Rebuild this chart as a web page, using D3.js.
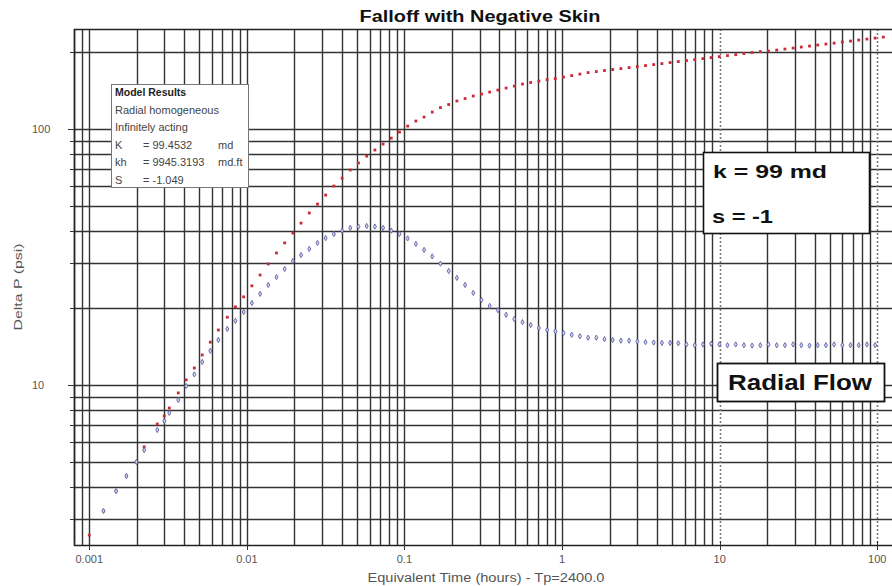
<!DOCTYPE html>
<html>
<head>
<meta charset="utf-8">
<script src="https://cdn.jsdelivr.net/npm/d3@7/dist/d3.min.js"></script>
<style>
  body { margin: 0; background: #fff; }
  svg { display: block; }
  text { font-family: Arial, "Liberation Sans", sans-serif; }
</style>
</head>
<body>
<svg id="chart" width="892" height="586"></svg>
<script>
// Falloff test: pressure change and its log derivative versus equivalent time
const timeHours = [
  0.001, 0.00123, 0.00148, 0.00172, 0.00199, 0.00223, 0.00270, 0.00299, 0.00322, 0.00367,
  0.00412, 0.00464, 0.00521, 0.00586, 0.00659,
  0.00751, 0.00846, 0.00954, 0.01076, 0.01213, 0.01367, 0.01541, 0.01737, 0.01958, 0.02207,
  0.02488, 0.02805, 0.03162, 0.03565, 0.04018, 0.04530, 0.05106, 0.05756, 0.06489, 0.07315,
  0.08247, 0.09297, 0.1048, 0.1181, 0.1332, 0.1501, 0.1692, 0.1908, 0.2151, 0.2424,
  0.2733, 0.3081, 0.3473, 0.3915, 0.4414, 0.4975, 0.5609, 0.6323, 0.7128, 0.8035,
  0.9057, 1.021, 1.151, 1.297, 1.463, 1.649, 1.858, 2.095, 2.362, 2.662,
  3.001, 3.383, 3.814, 4.299, 4.846, 5.463, 6.159, 6.943, 7.826, 8.823,
  9.945, 11.21, 12.64, 14.25, 16.06, 18.11, 20.41, 23.01, 25.94, 29.24,
  32.96, 37.15, 41.88, 47.21, 53.22, 59.99, 67.63, 76.24, 85.94, 96.87,
  109.2
];

// Delta P (psi)
const deltaP = [
  2.59, 3.22, 3.85, 4.41, 5.00, 5.73, 7.04, 7.57, 8.13, 9.31,
  10.47, 11.65, 13.1, 14.7, 16.4,
  18.4, 20.2, 22.1, 24.4, 26.9, 29.7, 32.8, 35.9, 39.2, 42.9,
  47.0, 50.9, 55.2, 59.9, 64.3, 69.2, 73.7, 78.4, 82.8, 87.4,
  92.2, 97.3, 102.7, 107.5, 111.4, 116.5, 121.3, 124.7, 128.7, 131.6,
  134.6, 137.0, 139.5, 142.0, 144.6, 147.2, 149.9, 152.0, 154.0, 156.1,
  157.5, 159.6, 161.8, 164.0, 166.2, 167.7, 169.3, 170.8, 172.3, 173.9,
  175.4, 177.0, 178.6, 180.2, 181.9, 183.5, 185.2, 186.8, 188.5, 190.2,
  191.9, 193.7, 195.4, 197.2, 199.0, 200.8, 201.7, 203.5, 205.4, 207.2,
  209.1, 211.0, 212.9, 214.8, 216.7, 218.7, 220.7, 222.7, 224.7, 226.7,
  228.7
];

// Pressure derivative (psi)
const derivative = [
  null, 3.22, 3.85, 4.41, 5.00, 5.57, 6.67, 7.23, 7.78, 8.74,
  9.91, 11.0, 12.3, 13.6, 15.0,
  16.55, 17.8, 19.3, 20.9, 22.7, 24.6, 26.4, 28.4, 30.5, 32.2,
  34.0, 35.9, 37.5, 38.9, 40.1, 41.1, 41.6, 41.8, 41.6, 41.1,
  40.1, 38.9, 37.4, 35.6, 33.7, 31.8, 29.8, 27.9, 26.2, 24.6,
  22.9, 21.5, 20.35, 19.6, 18.8, 18.1, 17.6, 17.15, 16.7, 16.4,
  16.2, 15.96, 15.7, 15.5, 15.3, 15.3, 15.1, 15.0, 14.9, 14.9,
  14.8, 14.7, 14.65, 14.6, 14.6, 14.55, 14.4, 14.3, 14.4, 14.5,
  14.4, 14.3, 14.4, 14.3, 14.25, 14.3, 14.4, 14.3, 14.3, 14.4,
  14.3, 14.25, 14.3, 14.3, 14.4, 14.3, 14.3, 14.3, 14.4, 14.3,
  null
];

const xTickValues = [0.001, 0.01, 0.1, 1, 10, 100];
const xTickLabels = ["0.001", "0.01", "0.1", "1", "10", "100"];
const yTickValues = [10, 100];
const yTickLabels = ["10", "100"];
const xDomain = [0.0008, 124];
const yDomain = [2.37, 246];

const chartTitle = "Falloff with Negative Skin";
const xTitle = "Equivalent Time (hours) - Tp=2400.0";
const yTitle = "Delta P (psi)";
const modelHeader = "Model Results";
const modelLines = ["Radial homogeneous", "Infinitely acting"];
const modelParams = [
  ["K", "= 99.4532", "md"],
  ["kh", "= 9945.3193", "md.ft"],
  ["S", "= -1.049", ""]
];
const noteLines = ["k = 99  md", "s = -1"];
const flowLabel = "Radial Flow";

const svg = d3.select("#chart");
const plot = { left: 74, right: 892, top: 29, bottom: 545 };

const x = d3.scaleLog().domain(xDomain).range([plot.left, plot.right]);
const y = d3.scaleLog().domain(yDomain).range([plot.bottom, plot.top]);

svg.append("rect").attr("width", 892).attr("height", 586).attr("fill", "#fff");

svg.append("defs").append("clipPath").attr("id", "plotClip")
  .append("rect")
  .attr("x", plot.left).attr("y", plot.top)
  .attr("width", plot.right - plot.left).attr("height", plot.bottom - plot.top);

// Grid
const grid = svg.append("g");
const xGrid = x.ticks().filter(v => v >= xDomain[0] * 0.999 && v <= xDomain[1]);
const yGrid = y.ticks().filter(v => v >= yDomain[0] && v <= yDomain[1]);
const isDotted = v => Math.abs(v - 10) < 1e-9 || Math.abs(v - 100) < 1e-9;

grid.selectAll("line.h").data(yGrid).join("line")
  .attr("x1", plot.left).attr("x2", plot.right)
  .attr("y1", d => Math.round(y(d)) + 0.5).attr("y2", d => Math.round(y(d)) + 0.5)
  .attr("stroke", "#333").attr("stroke-width", 1.4);

grid.selectAll("line.v").data(xGrid).join("line")
  .attr("y1", plot.top).attr("y2", plot.bottom)
  .attr("x1", d => Math.round(x(d)) + 0.5).attr("x2", d => Math.round(x(d)) + 0.5)
  .attr("stroke", d => isDotted(d) ? "#7a7a7a" : "#333")
  .attr("stroke-width", d => isDotted(d) ? 1.6 : 1.4)
  .attr("stroke-dasharray", d => isDotted(d) ? "2,2" : null);

// Frame
svg.append("line").attr("x1", plot.left + 0.5).attr("x2", plot.left + 0.5)
  .attr("y1", plot.top).attr("y2", plot.bottom + 1).attr("stroke", "#222").attr("stroke-width", 1.5);
svg.append("line").attr("x1", plot.left).attr("x2", plot.right)
  .attr("y1", plot.top + 0.5).attr("y2", plot.top + 0.5).attr("stroke", "#222").attr("stroke-width", 1.5);
svg.append("line").attr("x1", plot.left).attr("x2", plot.right)
  .attr("y1", plot.bottom + 0.5).attr("y2", plot.bottom + 0.5).attr("stroke", "#222").attr("stroke-width", 1.5);

// Axis ticks
const isMajor = v => Math.abs(Math.log10(v) - Math.round(Math.log10(v))) < 1e-6;
svg.append("g").selectAll("line").data(xGrid).join("line")
  .attr("x1", d => Math.round(x(d)) + 0.5).attr("x2", d => Math.round(x(d)) + 0.5)
  .attr("y1", d => plot.bottom - 4).attr("y2", d => isMajor(d) ? plot.bottom + 5 : plot.bottom)
  .attr("stroke", "#333");
svg.append("g").selectAll("line").data(yGrid).join("line")
  .attr("y1", d => Math.round(y(d)) + 0.5).attr("y2", d => Math.round(y(d)) + 0.5)
  .attr("x1", d => isMajor(d) ? plot.left - 6 : plot.left - 4).attr("x2", plot.left)
  .attr("stroke", "#333");

// Tick labels
svg.append("g").selectAll("text").data(xTickValues).join("text")
  .attr("x", d => x(d)).attr("y", 563)
  .attr("text-anchor", "middle").attr("font-size", 11).attr("fill", "#555")
  .text((d, i) => xTickLabels[i]);
svg.append("g").selectAll("text").data(yTickValues).join("text")
  .attr("x", 32).attr("y", d => y(d) + 4)
  .attr("text-anchor", "start").attr("font-size", 11).attr("fill", "#555")
  .text((d, i) => yTickLabels[i]);

// Titles
svg.append("text").attr("x", 480).attr("y", 22).attr("text-anchor", "middle")
  .attr("font-size", 16).attr("font-weight", "bold").attr("fill", "#111")
  .attr("textLength", 241).attr("lengthAdjust", "spacingAndGlyphs")
  .text(chartTitle);
svg.append("text").attr("x", 486).attr("y", 582).attr("text-anchor", "middle")
  .attr("font-size", 12).attr("fill", "#555")
  .attr("textLength", 237).attr("lengthAdjust", "spacingAndGlyphs")
  .text(xTitle);
svg.append("text").attr("transform", "translate(22,287) rotate(-90)")
  .attr("text-anchor", "middle").attr("font-size", 11).attr("fill", "#555")
  .attr("textLength", 87).attr("lengthAdjust", "spacingAndGlyphs")
  .text(yTitle);

// Data points
const points = timeHours.map((t, i) => ({ t, p: deltaP[i], d: derivative[i] }));
const marks = svg.append("g").attr("clip-path", "url(#plotClip)");

marks.selectAll("rect.dp").data(points.filter(p => p.p != null)).join("rect")
  .attr("x", d => x(d.t) - 1.4).attr("y", d => y(d.p) - 1.4)
  .attr("width", 2.8).attr("height", 2.8)
  .attr("fill", "#cc2a36");

marks.selectAll("path.der").data(points.filter(p => p.d != null)).join("path")
  .attr("transform", d => `translate(${x(d.t)},${y(d.d)})`)
  .attr("d", d3.symbol(d3.symbolDiamond, 8))
  .attr("fill", "#d4d4ee").attr("stroke", "#5f5fa8").attr("stroke-width", 0.9);

// Model results box
const mb = svg.append("g");
mb.append("rect").attr("x", 111.5).attr("y", 84.5).attr("width", 137).attr("height", 103)
  .attr("fill", "#fff").attr("stroke", "#777");
mb.append("text").attr("x", 115).attr("y", 96).attr("font-size", 10.5)
  .attr("font-weight", "bold").attr("fill", "#222").text(modelHeader);
modelLines.forEach((s, i) => {
  mb.append("text").attr("x", 115).attr("y", 113.5 + i * 17.5).attr("font-size", 11)
    .attr("fill", "#444").text(s);
});
modelParams.forEach((row, i) => {
  const yy = 148.5 + i * 17.5;
  mb.append("text").attr("x", 115).attr("y", yy).attr("font-size", 11).attr("fill", "#444").text(row[0]);
  mb.append("text").attr("x", 143).attr("y", yy).attr("font-size", 11).attr("fill", "#444").text(row[1]);
  if (row[2]) mb.append("text").attr("x", 218).attr("y", yy).attr("font-size", 11).attr("fill", "#444").text(row[2]);
});

// Parameter note
const nb = svg.append("g");
nb.append("rect").attr("x", 703.5).attr("y", 152.5).attr("width", 166).attr("height", 81)
  .attr("fill", "#fff").attr("stroke", "#111").attr("stroke-width", 1.6);
nb.append("text").attr("x", 713).attr("y", 178).attr("font-size", 18).attr("font-weight", "bold")
  .attr("fill", "#111").attr("textLength", 114).attr("lengthAdjust", "spacingAndGlyphs").text(noteLines[0]);
nb.append("text").attr("x", 712).attr("y", 223).attr("font-size", 18).attr("font-weight", "bold")
  .attr("fill", "#111").attr("textLength", 61).attr("lengthAdjust", "spacingAndGlyphs").text(noteLines[1]);

// Flow regime label
const fb = svg.append("g");
fb.append("rect").attr("x", 717.5).attr("y", 363.5).attr("width", 167).attr("height", 38)
  .attr("fill", "#fff").attr("stroke", "#111").attr("stroke-width", 1.8);
fb.append("text").attr("x", 728).attr("y", 390).attr("font-size", 22).attr("font-weight", "bold")
  .attr("fill", "#111").attr("textLength", 144).attr("lengthAdjust", "spacingAndGlyphs").text(flowLabel);
</script>
</body>
</html>
